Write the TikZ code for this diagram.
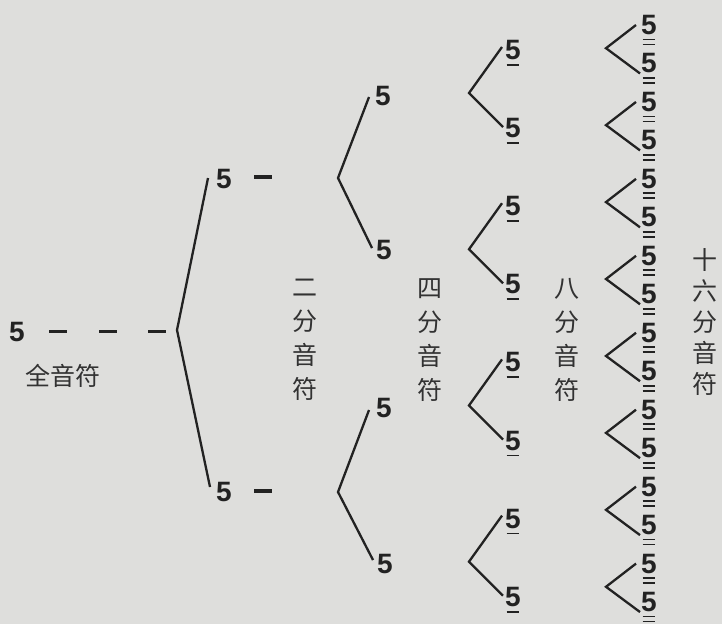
\documentclass[tikz,border=0pt]{standalone}
\usepackage{fontspec}
\usetikzlibrary{calc}
\newfontfamily\fivefont{Liberation Sans}
\newfontfamily\cjkfont{Noto Sans CJK SC}
\definecolor{bgpaper}{RGB}{222,222,220}
\definecolor{ink}{RGB}{34,34,34}
\definecolor{labelink}{RGB}{50,50,50}
\tikzset{
  five/.style={inner sep=0pt, text=ink, font=\fivefont\bfseries\fontsize{28}{28}\selectfont},
  beatline/.style={inner sep=0pt, minimum width=18pt, minimum height=3.2pt, fill=ink},
  branch/.style={draw=ink, line width=2.3pt, line join=miter},
  uline/.style={draw=ink, line width=1.8pt},
  vlabel/.style={text=labelink, align=center, inner sep=0pt, font=\cjkfont\fontsize{25}{34}\selectfont},
}
\begin{document}
\begin{tikzpicture}[x=1pt,y=-1pt]
\path[use as bounding box, fill=bgpaper] (0,0) rectangle (722,624);

% whole note
\node[five] (w) at (17,332) {5};
\node[beatline] (wd1) at (58,331.5) {};
\node[beatline] (wd2) at (108,331.5) {};
\node[beatline] (wd3) at (157,331.5) {};
\node[vlabel] (wl) at (63,376) {全音符};

% half notes
\node[five] (h1) at (224,179) {5};
\node[five] (h2) at (224,492) {5};
\node[beatline] (hd1) at (263,177) {};
\node[beatline] (hd2) at (263,491) {};
\coordinate (bw) at (177,330);
\draw[branch] ($(h1.west)+(-8,-1)$) -- (bw) -- ($(h2.west)+(-6,-5)$);
\node[vlabel] (hl) at (305,340) {二\\分\\音\\符};

% quarter notes
\node[five] (q1) at (383,96) {5};
\node[five] (q2) at (384,250) {5};
\node[five] (q3) at (384,408) {5};
\node[five] (q4) at (385,564) {5};
\coordinate (bh1) at (338,178);
\coordinate (bh2) at (338,492);
\draw[branch] ($(q1.west)+(-6,1)$) -- (bh1) -- ($(q2.west)+(-4,-2)$);
\draw[branch] ($(q3.west)+(-7,2)$) -- (bh2) -- ($(q4.west)+(-4,-4)$);
\node[vlabel] (ql) at (430,340) {四\\分\\音\\符};

% eighth notes
\foreach \k in {1,...,8} {
  \node[five] (e\k) at (513,{50+78.1*(\k-1)}) {5};
  \draw[uline] ($(e\k.south west)+(1.5,5)$) -- ($(e\k.south east)+(-1.5,5)$);
}
\foreach \j in {1,...,4} {
  \pgfmathtruncatemacro{\a}{2*\j-1}
  \pgfmathtruncatemacro{\b}{2*\j}
  \coordinate (bq\j) at (469,{93.05+156.2*(\j-1)});
  \draw[branch] ($(e\a.west)+(-3,-3)$) -- (bq\j) -- ($(e\b.west)+(-2,-1)$);
}
\node[vlabel] (el) at (567,340) {八\\分\\音\\符};

% sixteenth notes
\foreach \k in {1,...,16} {
  \node[five] (s\k) at (649,{25+38.47*(\k-1)}) {5};
  \draw[uline] ($(s\k.south west)+(1.5,4.5)$) -- ($(s\k.south east)+(-1.5,4.5)$);
  \draw[uline] ($(s\k.south west)+(1.5,9.5)$) -- ($(s\k.south east)+(-1.5,9.5)$);
}
\foreach \j in {1,...,8} {
  \pgfmathtruncatemacro{\a}{2*\j-1}
  \pgfmathtruncatemacro{\b}{2*\j}
  \coordinate (bs\j) at (606,{48.2+76.94*(\j-1)});
  \draw[branch] ($(s\a.west)+(-5,0)$) -- (bs\j) -- ($(s\b.west)+(-1,10)$);
}
\node[vlabel, font=\cjkfont\fontsize{25}{31}\selectfont] (sl) at (705,322) {十\\六\\分\\音\\符};
\end{tikzpicture}
\end{document}
